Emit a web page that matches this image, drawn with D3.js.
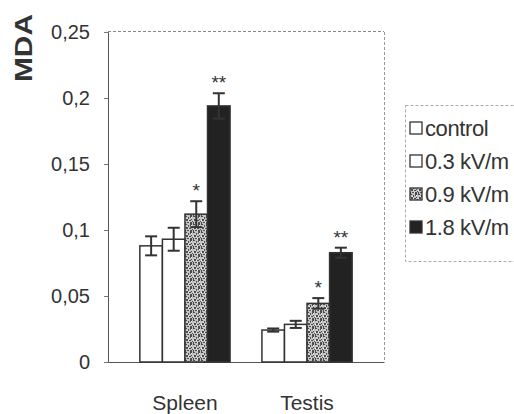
<!DOCTYPE html>
<html>
<head>
<meta charset="utf-8">
<script src="https://cdn.jsdelivr.net/npm/d3@7"></script>
<style>
  html, body { margin: 0; padding: 0; background: #fff; }
  svg { display: block; font-family: 'Liberation Sans', Arial, sans-serif; }
</style>
</head>
<body>
<svg id="chart" width="514" height="414"></svg>
<script>
const groups = ['Spleen', 'Testis'];
const series = ['control', '0.3 kV/m', '0.9 kV/m', '1.8 kV/m'];
const spleenValues = [0.088, 0.093, 0.112, 0.194];
const spleenErrors = [0.0072, 0.0087, 0.0098, 0.0096];
const testisValues = [0.0242, 0.0285, 0.0444, 0.0828];
const testisErrors = [0.0012, 0.0027, 0.004, 0.0038];
const significance = ['', '', '*', '**'];
const yTicks = [0, 0.05, 0.1, 0.15, 0.2, 0.25];
const yTickLabels = ['0', '0,05', '0,1', '0,15', '0,2', '0,25'];

const ink = '#333';
const fills = ['#fff', '#fff', 'url(#speckle)', '#222'];

const svg = d3.select('#chart');

// speckled texture for the 0.9 kV/m bars
const pat = svg.append('defs')
  .append('pattern')
  .attr('id', 'speckle')
  .attr('patternUnits', 'userSpaceOnUse')
  .attr('width', 8)
  .attr('height', 8);
pat.append('rect').attr('width', 8).attr('height', 8).attr('fill', '#c4c4c4');
[[0, 0, 2, 1], [3, 1, 1, 2], [5, 0, 2, 2], [1, 3, 2, 2], [6, 3, 1, 1],
 [4, 4, 2, 1], [0, 6, 1, 2], [2, 6, 2, 1], [5, 6, 2, 2], [7, 5, 1, 1]]
  .forEach(([px, py, pw, ph]) => {
    pat.append('rect')
      .attr('x', px).attr('y', py)
      .attr('width', pw).attr('height', ph)
      .attr('fill', '#4a4a4a');
  });
[[2, 2], [6, 1], [0, 4], [4, 6], [3, 4]].forEach(([px, py]) => {
  pat.append('rect')
    .attr('x', px).attr('y', py)
    .attr('width', 1).attr('height', 1)
    .attr('fill', '#f2f2f2');
});

const plotLeft = 108;
const plotRight = 384;
const plotTop = 32;
const plotBottom = 362;

const x = d3.scaleBand()
  .domain(groups)
  .range([plotLeft, plotRight])
  .padding(0.261);

const xSub = d3.scaleBand()
  .domain(series)
  .range([0, x.bandwidth()]);

const y = d3.scaleLinear()
  .domain([0, 0.25])
  .range([plotBottom, plotTop]);

const data = [];
groups.forEach((g, gi) => {
  const vals = gi === 0 ? spleenValues : testisValues;
  const errs = gi === 0 ? spleenErrors : testisErrors;
  series.forEach((s, si) => {
    data.push({ group: g, series: s, si, value: vals[si], err: errs[si], sig: significance[si] });
  });
});

// frame: dashed top and right, solid bottom
svg.append('line')
  .attr('x1', plotLeft).attr('x2', plotRight)
  .attr('y1', plotTop - 0.5).attr('y2', plotTop - 0.5)
  .attr('stroke', '#888').attr('stroke-width', 1)
  .attr('stroke-dasharray', '3,2');
svg.append('line')
  .attr('x1', plotRight + 0.5).attr('x2', plotRight + 0.5)
  .attr('y1', plotTop).attr('y2', plotBottom)
  .attr('stroke', '#999').attr('stroke-width', 1)
  .attr('stroke-dasharray', '3,2');

// y axis
const yAxis = d3.axisLeft(y)
  .tickValues(yTicks)
  .tickFormat((d, i) => yTickLabels[i])
  .tickSize(4)
  .tickPadding(14);

const gy = svg.append('g')
  .attr('transform', `translate(${plotLeft},0)`)
  .call(yAxis);
gy.select('.domain').attr('stroke', '#555');
gy.selectAll('.tick line').attr('stroke', '#777');
gy.selectAll('.tick text')
  .attr('fill', ink)
  .style('font-size', '20px');

// x axis
const gx = svg.append('g')
  .attr('transform', `translate(0,${plotBottom})`)
  .call(d3.axisBottom(x).tickSize(0).tickPadding(33));
gx.select('.domain').attr('stroke', '#555');
gx.selectAll('.tick text')
  .attr('fill', ink)
  .style('font-size', '21px');

// bars
const bars = svg.append('g')
  .selectAll('g')
  .data(data)
  .enter()
  .append('g')
  .attr('transform', d => `translate(${x(d.group) + xSub(d.series)},0)`);

bars.append('rect')
  .attr('x', 0)
  .attr('y', d => y(d.value))
  .attr('width', xSub.bandwidth())
  .attr('height', d => y(0) - y(d.value))
  .attr('fill', d => fills[d.si])
  .attr('stroke', ink)
  .attr('stroke-width', 1.5);

// error bars
const cx = xSub.bandwidth() / 2;
bars.append('line')
  .attr('x1', cx).attr('x2', cx)
  .attr('y1', d => y(d.value - d.err))
  .attr('y2', d => y(d.value + d.err))
  .attr('stroke', ink)
  .attr('stroke-width', 2);
bars.append('line')
  .attr('x1', cx - 6).attr('x2', cx + 6)
  .attr('y1', d => y(d.value + d.err))
  .attr('y2', d => y(d.value + d.err))
  .attr('stroke', ink)
  .attr('stroke-width', 2);
bars.append('line')
  .attr('x1', cx - 6).attr('x2', cx + 6)
  .attr('y1', d => y(d.value - d.err))
  .attr('y2', d => y(d.value - d.err))
  .attr('stroke', ink)
  .attr('stroke-width', 2);

// significance marks
bars.append('text')
  .attr('x', cx)
  .attr('y', d => y(d.value + d.err) - 4)
  .attr('text-anchor', 'middle')
  .attr('fill', ink)
  .style('font-size', '19px')
  .text(d => d.sig);

// y title
svg.append('text')
  .attr('transform', 'translate(32,48) rotate(-90)')
  .attr('text-anchor', 'middle')
  .attr('fill', ink)
  .style('font-size', '24px')
  .style('font-weight', 'bold')
  .attr('textLength', 68)
  .attr('lengthAdjust', 'spacingAndGlyphs')
  .text('MDA');

// legend
const legend = svg.append('g');
legend.append('rect')
  .attr('x', 405.5).attr('y', 105.5)
  .attr('width', 120).attr('height', 156)
  .attr('fill', 'none')
  .attr('stroke', '#aaa')
  .attr('stroke-dasharray', '3,2');

const items = legend.selectAll('.item')
  .data(series)
  .enter()
  .append('g')
  .attr('class', 'item')
  .attr('transform', (d, i) => `translate(410,${128 + i * 33})`);

items.append('rect')
  .attr('x', 0)
  .attr('y', -6)
  .attr('width', 12)
  .attr('height', 12)
  .attr('fill', (d, i) => fills[i])
  .attr('stroke', ink)
  .attr('stroke-width', 1.3);

items.append('text')
  .attr('x', 15)
  .attr('y', 8)
  .attr('fill', ink)
  .style('font-size', '22px')
  .style('letter-spacing', '-0.4px')
  .text(d => d);
</script>
</body>
</html>
